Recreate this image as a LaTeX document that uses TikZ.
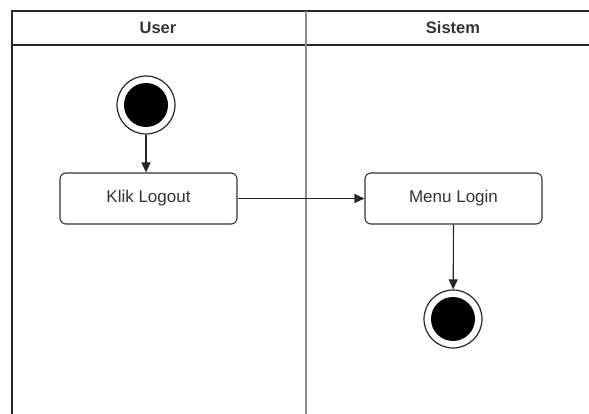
\documentclass[tikz,border=0pt]{standalone}
\usepackage{fontspec}
\setmainfont{Liberation Sans}
\usetikzlibrary{arrows.meta}
\definecolor{txt}{HTML}{333333}
\begin{document}
\begin{tikzpicture}[x=1pt,y=-1pt,
  lane/.style={draw=black!85,line width=1.3pt},
  divider/.style={draw=black!45,line width=2pt},
  actbox/.style={draw=black!80,line width=1.1pt,rounded corners=6pt,minimum width=177pt,minimum height=51pt,text=txt,font=\fontsize{17}{20}\selectfont,inner sep=0pt},
  startnode/.style={circle,draw=black!85,line width=1.2pt,fill=white,minimum size=58pt,inner sep=0pt},
  dotfill/.style={circle,fill=black,minimum size=44pt,inner sep=0pt},
  flow/.style={draw=black!85,line width=1.1pt,-{Triangle[length=10pt,width=9pt]}},
  head/.style={text=txt,font=\bfseries\fontsize{16.5}{19}\selectfont}]
\useasboundingbox (0,0) rectangle (589,414);
% swimlane frame
\draw[lane] (12,420) -- (12,11) -- (595,11);
\draw[lane] (12,45) -- (595,45);
\draw[divider] (306,11) -- (306,420);
\node[head] (hUser) at (158,28) {User};
\node[head] (hSistem) at (453,28) {Sistem};
% start state
\node[startnode] (start) at (146,105) {};
\node[dotfill] at (start) {};
% actions
\node[actbox] (logout) at (148.5,198.5) {Klik Logout};
\node[actbox] (login) at (453.5,198.5) {Menu Login};
% final state
\node[startnode] (final) at (453,319) {};
\node[dotfill] at (final) {};
% transitions
\draw[flow] (start) -- (start |- logout.north);
\draw[flow] (logout.east) -- (login.west);
\draw[flow] (login.south) -- (final);
\end{tikzpicture}
\end{document}
